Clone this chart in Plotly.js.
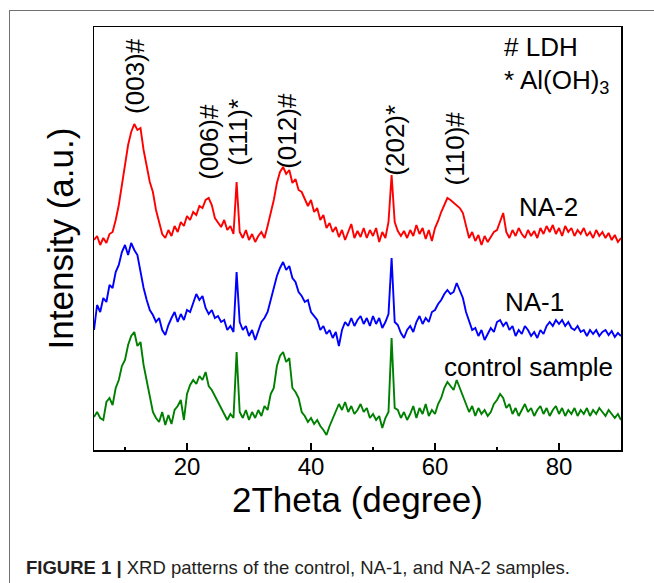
<!DOCTYPE html>
<html>
<head>
<meta charset="utf-8">
<script src="https://cdn.plot.ly/plotly-3.0.1.min.js"></script>
<style>
  html, body { margin: 0; padding: 0; background: #fff; }
  #wrap { position: relative; width: 654px; height: 583px; overflow: hidden; }
  #chart { position: absolute; left: 0; top: 0; width: 654px; height: 583px; }
  /* page rule lines around the figure */
  #rule-top { position: absolute; left: 9px; top: 10px; width: 645px; height: 0; border-top: 1px solid #707070; }
  #rule-left { position: absolute; left: 9px; top: 10px; width: 0; height: 573px; border-left: 1px solid #707070; }
</style>
</head>
<body>
<div id="wrap">
  <div id="chart"></div>
  <div id="rule-top"></div>
  <div id="rule-left"></div>
</div>
<script>
// XRD scan: 2θ from 5° to 90° in 0.5° steps
const TWO_THETA_START = 5;
const TWO_THETA_STEP = 0.5;

// Stacked intensity traces (a.u., vertically offset for display)
const na2 = [
  210,214,205,212,207,216,218,230,245,265,288,305,318,326,320,322,300,285,268,258,
  240,228,216,212,220,214,224,218,228,224,234,230,238,235,244,242,250,252,245,232,
  228,223,230,220,224,216,268,218,212,220,210,216,208,214,218,212,224,236,250,267,
  278,283,276,280,267,271,260,258,251,244,250,238,242,230,235,222,227,218,223,213,
  220,210,218,226,212,219,213,222,212,220,214,222,208,218,212,228,275,228,219,214,
  219,212,220,214,225,216,222,211,220,209,222,229,238,246,252,250,247,244,242,237,
  224,212,218,209,215,205,214,208,213,218,220,228,237,218,212,220,214,222,216,212,
  220,214,219,212,222,216,224,218,225,216,222,214,224,218,222,214,220,216,222,214,
  218,212,220,214,218,212,217,210,215,208,212
];

const na1 = [
  120,145,138,152,148,165,162,178,185,198,205,195,207,200,195,178,162,150,140,135,
  128,132,120,115,125,132,138,128,136,130,140,138,148,156,150,154,142,136,140,132,
  134,128,130,120,124,118,178,128,120,124,114,120,110,118,128,132,138,150,162,174,
  182,188,180,184,172,168,158,154,148,150,138,134,130,120,124,116,120,112,118,104,
  120,128,124,132,124,130,134,126,132,124,134,126,132,122,128,136,192,128,125,117,
  112,120,124,118,128,134,126,132,128,138,140,146,150,156,160,156,158,167,160,152,
  138,128,120,122,114,120,110,116,122,118,128,130,124,128,120,124,114,120,116,124,
  120,114,118,112,120,116,124,128,124,130,126,130,124,128,122,120,124,118,120,114,
  120,116,120,114,118,120,115,119,113,117,114
];

const control = [
  33,38,32,30,48,52,45,62,70,84,90,105,114,118,104,108,85,70,52,38,
  32,28,38,25,35,26,40,44,50,30,56,65,70,66,74,70,78,64,60,54,
  48,42,36,30,36,32,98,38,32,40,30,38,32,40,34,44,40,56,62,84,
  94,98,88,92,62,58,52,38,34,28,32,26,30,24,20,15,24,32,40,46,
  40,48,38,44,36,40,46,38,42,32,36,30,34,22,32,38,112,42,40,32,
  38,30,36,44,32,42,36,46,34,40,36,46,52,62,68,64,60,70,62,52,
  46,38,44,34,42,36,40,34,38,46,50,56,52,42,46,36,42,34,40,46,
  38,42,34,40,44,36,42,34,40,44,36,42,34,40,36,42,34,40,36,42,
  34,40,36,42,38,34,40,36,32,36,30
];

// Reflection labels: [text, 2θ position of label centre, label centre height]
const peakLabels = [
  ['(003)#', 11.6, 374],
  ['(006)#', 23.5, 308],
  ['(111)*', 28.2, 318],
  ['(012)#', 36.1, 319],
  ['(202)*', 53.5, 310],
  ['(110)#', 63.3, 302]
];

const sampleNames = ['control sample', 'NA-1', 'NA-2'];

const twoTheta = na2.map((_, i) => TWO_THETA_START + i * TWO_THETA_STEP);

const FONT = 'Liberation Sans, Arial, Helvetica, sans-serif';
const LINE_W = 1.9;

const traces = [
  { x: twoTheta, y: control, name: sampleNames[0], line: { color: '#008000', width: LINE_W } },
  { x: twoTheta, y: na1, name: sampleNames[1], line: { color: '#0000ff', width: LINE_W } },
  { x: twoTheta, y: na2, name: sampleNames[2], line: { color: '#ff0000', width: LINE_W } }
].map(t => Object.assign({ type: 'scatter', mode: 'lines', hoverinfo: 'skip' }, t));

const annotations = peakLabels.map(([text, x, y]) => ({
  text, x, y, xref: 'x', yref: 'y', showarrow: false, textangle: -90,
  xanchor: 'center', yanchor: 'middle',
  font: { family: FONT, size: 26, color: '#000' }
}));

// sample names beside each pattern
[[sampleNames[2], 548, 207], [sampleNames[1], 534, 302], [sampleNames[0], 528, 367]].forEach(([text, px, py]) => {
  annotations.push({
    text, x: (px - 94) / 527, y: (450 - py) / 423, xref: 'paper', yref: 'paper',
    showarrow: false, xanchor: 'center', yanchor: 'middle',
    font: { family: FONT, size: 26, color: '#000' }
  });
});

// phase key
annotations.push({
  text: '# LDH', x: (502 - 94) / 527, y: (450 - 47) / 423, xref: 'paper', yref: 'paper',
  showarrow: false, xanchor: 'left', yanchor: 'middle',
  font: { family: FONT, size: 26, color: '#000' }
});
annotations.push({
  text: '* Al(OH)<sub>3</sub>', x: (502 - 94) / 527, y: (450 - 82) / 423, xref: 'paper', yref: 'paper',
  showarrow: false, xanchor: 'left', yanchor: 'middle',
  font: { family: FONT, size: 26, color: '#000' }
});

// figure caption
annotations.push({
  text: '<b>FIGURE 1 |</b> XRD patterns of the control, NA-1, and NA-2 samples.',
  x: (24 - 94) / 527, y: (450 - 567) / 423, xref: 'paper', yref: 'paper',
  showarrow: false, xanchor: 'left', yanchor: 'middle',
  font: { family: FONT, size: 18.5, color: '#231f20' }
});

const layout = {
  width: 654, height: 583,
  margin: { l: 94, r: 33, t: 27, b: 133, pad: 0 },
  paper_bgcolor: '#fff', plot_bgcolor: '#fff',
  showlegend: false,
  font: { family: FONT, color: '#000' },
  xaxis: {
    range: [5, 90], tick0: 0, dtick: 20,
    ticks: 'inside', ticklen: 7, tickwidth: 1.5, tickcolor: '#000',
    ticklabelstandoff: -5,
    minor: { dtick: 10, ticks: 'inside', ticklen: 3.5, tickwidth: 1.5, tickcolor: '#000' },
    showline: true, linecolor: '#000', linewidth: 1.5, mirror: true,
    showgrid: false, zeroline: false,
    tickfont: { family: FONT, size: 24, color: '#000' },
    title: { text: '2Theta (degree)', font: { family: FONT, size: 35, color: '#000' }, standoff: 0 }
  },
  yaxis: {
    range: [0, 423],
    showticklabels: false, ticks: '',
    showline: true, linecolor: '#000', linewidth: 1.5, mirror: true,
    showgrid: false, zeroline: false,
    title: { text: 'Intensity (a.u.)', font: { family: FONT, size: 35, color: '#000' }, standoff: 8 }
  },
  annotations
};

Plotly.newPlot('chart', traces, layout, { staticPlot: true, displayModeBar: false });
</script>
</body>
</html>
